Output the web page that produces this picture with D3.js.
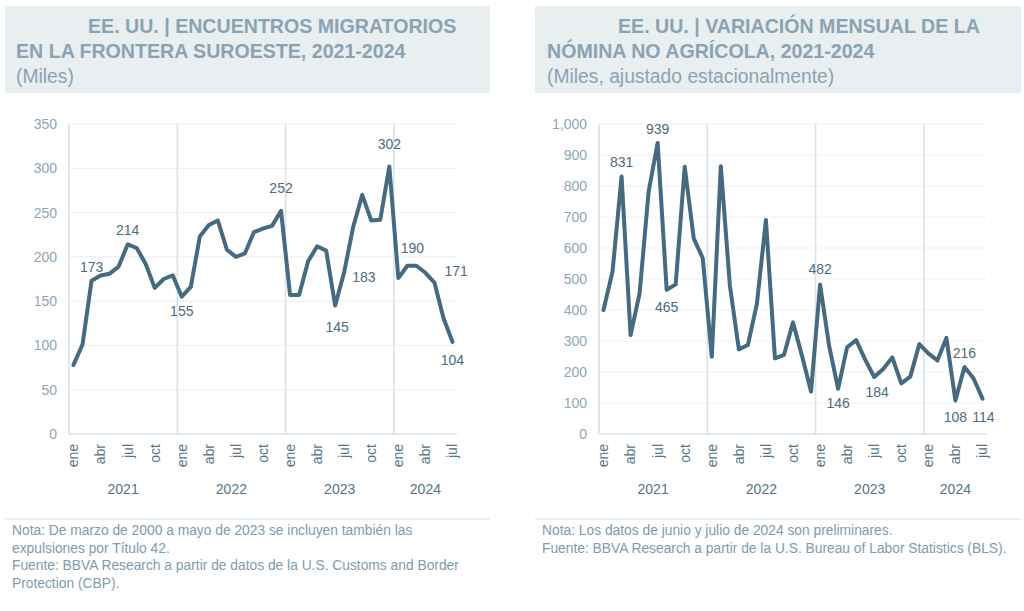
<!DOCTYPE html>
<html>
<head>
<meta charset="utf-8">
<script src="https://cdn.jsdelivr.net/npm/d3@7"></script>
<style>
  html, body { margin: 0; padding: 0; background: #ffffff; }
  svg { display: block; font-family: "Liberation Sans", Arial, Helvetica, sans-serif; }
</style>
</head>
<body>
<svg id="chart" width="1024" height="611"></svg>
<script>
// ---------- DATA ----------
const years = ["2021", "2022", "2023", "2024"];
const monthNames = ["ene", "feb", "mar", "abr", "may", "jun", "jul", "ago", "sep", "oct", "nov", "dic"];
const tickMonths = ["ene", "abr", "jul", "oct"];
const monthsInLastYear = 7;

// Encuentros migratorios, frontera suroeste (miles)
const encuentros2021 = [78, 101, 173, 179, 181, 189, 214, 210, 192, 165, 175, 179];
const encuentros2022 = [155, 166, 223, 236, 241, 208, 200, 204, 228, 232, 235, 252];
const encuentros2023 = [157, 157, 195, 212, 207, 145, 183, 234, 270, 241, 242, 302];
const encuentros2024 = [176, 190, 190, 182, 171, 131, 104];

// Variación mensual de la nómina no agrícola (miles)
const nomina2021 = [400, 524, 831, 319, 454, 782, 939, 465, 483, 862, 631, 567];
const nomina2022 = [249, 864, 480, 273, 287, 420, 690, 244, 255, 360, 252, 137];
const nomina2023 = [482, 285, 146, 280, 303, 240, 184, 210, 247, 163, 185, 290];
const nomina2024 = [260, 237, 310, 108, 216, 180, 114];

const leftTicks = [0, 50, 100, 150, 200, 250, 300, 350];
const rightTicks = [0, 100, 200, 300, 400, 500, 600, 700, 800, 900, 1000];

// indices of labelled points
const leftLabelIdx = [2, 6, 12, 23, 29, 30, 35, 37, 40, 42];
const rightLabelIdx = [2, 6, 7, 24, 26, 30, 39, 40, 42];

// ---------- BUILD ----------
const categories = [];
years.forEach((y, yi) => {
  const n = yi === years.length - 1 ? monthsInLastYear : 12;
  for (let m = 0; m < n; m++) categories.push({ key: y + "-" + (m + 1), year: y, month: monthNames[m] });
});
const leftValues = [].concat(encuentros2021, encuentros2022, encuentros2023, encuentros2024);
const rightValues = [].concat(nomina2021, nomina2022, nomina2023, nomina2024);

const svg = d3.select("#chart");

const COL_LINE = "#466a80";
const COL_TITLE = "#8aa3b3";
const COL_BOX = "#e9eef1";
const COL_YTICK = "#8ea6b6";
const COL_XTICK = "#557488";
const COL_LABEL = "#4d6c80";
const COL_GRID = "#edf1f4";
const COL_SEP = "#d9e3e9";
const COL_NOTE = "#7f9bad";

function drawPanel(opts) {
  const g = svg.append("g");
  // title box
  g.append("rect").attr("x", opts.box[0]).attr("y", 6).attr("width", opts.box[1] - opts.box[0]).attr("height", 87)
    .attr("fill", COL_BOX);
  g.append("text").attr("x", opts.t1x).attr("y", 33).attr("fill", COL_TITLE)
    .attr("font-size", 19.6).attr("font-weight", "bold").text(opts.title1);
  g.append("text").attr("x", opts.tx).attr("y", 58).attr("fill", COL_TITLE)
    .attr("font-size", 19.6).attr("font-weight", "bold").text(opts.title2);
  g.append("text").attr("x", opts.tx).attr("y", 83).attr("fill", COL_TITLE)
    .attr("font-size", 19.3).text(opts.subtitle);

  const x = d3.scaleBand().domain(categories.map(d => d.key)).range([opts.x0, opts.x1]).padding(0);
  const y = d3.scaleLinear().domain([0, opts.ymax]).range([434, 124]);
  const cx = k => x(k) + x.bandwidth() / 2;

  // horizontal grid
  g.append("g").selectAll("line").data(opts.ticks.filter(t => t > 0)).join("line")
    .attr("x1", opts.x0).attr("x2", opts.x1).attr("y1", d => y(d)).attr("y2", d => y(d))
    .attr("stroke", COL_GRID).attr("stroke-width", 1.2);

  // year separators
  const sepKeys = categories.filter(d => d.month === "ene" && d.year !== years[0]).map(d => d.key);
  g.append("g").selectAll("line").data(sepKeys).join("line")
    .attr("x1", d => x(d)).attr("x2", d => x(d)).attr("y1", 124).attr("y2", 434)
    .attr("stroke", COL_SEP).attr("stroke-width", 1.6);

  // axis lines
  g.append("line").attr("x1", opts.x0).attr("x2", opts.x0).attr("y1", 124).attr("y2", 434)
    .attr("stroke", COL_SEP).attr("stroke-width", 1.6);
  g.append("line").attr("x1", opts.x0).attr("x2", opts.x1).attr("y1", 434).attr("y2", 434)
    .attr("stroke", COL_SEP).attr("stroke-width", 1.6);

  // y axis
  const yAxis = d3.axisLeft(y).tickValues(opts.ticks).tickSize(0).tickPadding(0)
    .tickFormat(d3.format(","));
  const ya = g.append("g").attr("transform", `translate(${opts.ylabX},0)`).call(yAxis);
  ya.select(".domain").remove();
  ya.selectAll("text").attr("fill", COL_YTICK).attr("font-size", 14).attr("font-family", "Liberation Sans, Arial, sans-serif");

  // x axis month ticks (rotated)
  const xAxis = d3.axisBottom(x).tickSize(0).tickPadding(0)
    .tickValues(categories.filter(d => tickMonths.includes(d.month)).map(d => d.key))
    .tickFormat(k => categories.find(c => c.key === k).month);
  const xa = g.append("g").attr("transform", "translate(0,444)").call(xAxis);
  xa.select(".domain").remove();
  xa.selectAll("text")
    .attr("fill", COL_XTICK).attr("font-size", 14).attr("font-family", "Liberation Sans, Arial, sans-serif")
    .attr("transform", "rotate(-90)").attr("text-anchor", "end").attr("dx", 0).attr("dy", "0.35em").attr("x", 0).attr("y", 0);

  // year labels
  years.forEach(yr => {
    const ks = categories.filter(c => c.year === yr).map(c => c.key);
    const xc = (x(ks[0]) + x(ks[ks.length - 1]) + x.bandwidth()) / 2;
    g.append("text").attr("x", xc).attr("y", 494).attr("text-anchor", "middle")
      .attr("fill", COL_XTICK).attr("font-size", 14).text(yr);
  });

  // line
  const line = d3.line().x((d, i) => cx(categories[i].key)).y(d => y(d)).curve(d3.curveLinear);
  g.append("path").datum(opts.values).attr("d", line).attr("fill", "none")
    .attr("stroke", COL_LINE).attr("stroke-width", 4).attr("stroke-linejoin", "round").attr("stroke-linecap", "round");

  // data labels
  opts.labelIdx.forEach((idx, j) => {
    const p = opts.labelPos[j];
    g.append("text").attr("x", cx(categories[idx].key) + p[0]).attr("y", y(opts.values[idx]) + p[1])
      .attr("text-anchor", p[2] || "middle").attr("fill", COL_LABEL).attr("font-size", 14)
      .text(opts.values[idx]);
  });

  // notes
  g.append("line").attr("x1", opts.box[0]).attr("x2", opts.box[1]).attr("y1", 519).attr("y2", 519)
    .attr("stroke", "#d6e0e6").attr("stroke-width", 1.2);
  opts.notes.forEach((t, i) => {
    g.append("text").attr("x", opts.noteX).attr("y", 535 + i * 17.5).attr("fill", COL_NOTE)
      .attr("font-size", 13.8).text(t);
  });
}

drawPanel({
  box: [5, 490], t1x: 88, tx: 16,
  title1: "EE. UU. | ENCUENTROS MIGRATORIOS",
  title2: "EN LA FRONTERA SUROESTE, 2021-2024",
  subtitle: "(Miles)",
  x0: 69, x1: 457, ymax: 350, ticks: leftTicks, ylabX: 57,
  values: leftValues,
  labelIdx: leftLabelIdx,
  labelPos: [[0, -9], [0, -9], [0, 19], [0, -18], [2, 26], [8, 10, "start"], [0, -18], [5, -13], [10, -7, "start"], [0, 23]],
  noteX: 12,
  notes: [
    "Nota: De marzo de 2000 a mayo de 2023 se incluyen también las",
    "expulsiones por Título 42.",
    "Fuente: BBVA Research a partir de datos de la U.S. Customs and Border",
    "Protection (CBP)."
  ]
});

drawPanel({
  box: [535, 1021], t1x: 618, tx: 547,
  title1: "EE. UU. | VARIACIÓN MENSUAL DE LA",
  title2: "NÓMINA NO AGRÍCOLA, 2021-2024",
  subtitle: "(Miles, ajustado estacionalmente)",
  x0: 599, x1: 987, ymax: 1000, ticks: rightTicks, ylabX: 587,
  values: rightValues,
  labelIdx: rightLabelIdx,
  labelPos: [[0, -9], [0, -9], [0, 22], [0, -11], [0, 19], [3, 20], [0, 21], [0, -9], [1, 23]],
  noteX: 542,
  notes: [
    "Nota: Los datos de junio y julio de 2024 son preliminares.",
    "Fuente: BBVA Research a partir de la U.S. Bureau of Labor Statistics (BLS)."
  ]
});
</script>
</body>
</html>
